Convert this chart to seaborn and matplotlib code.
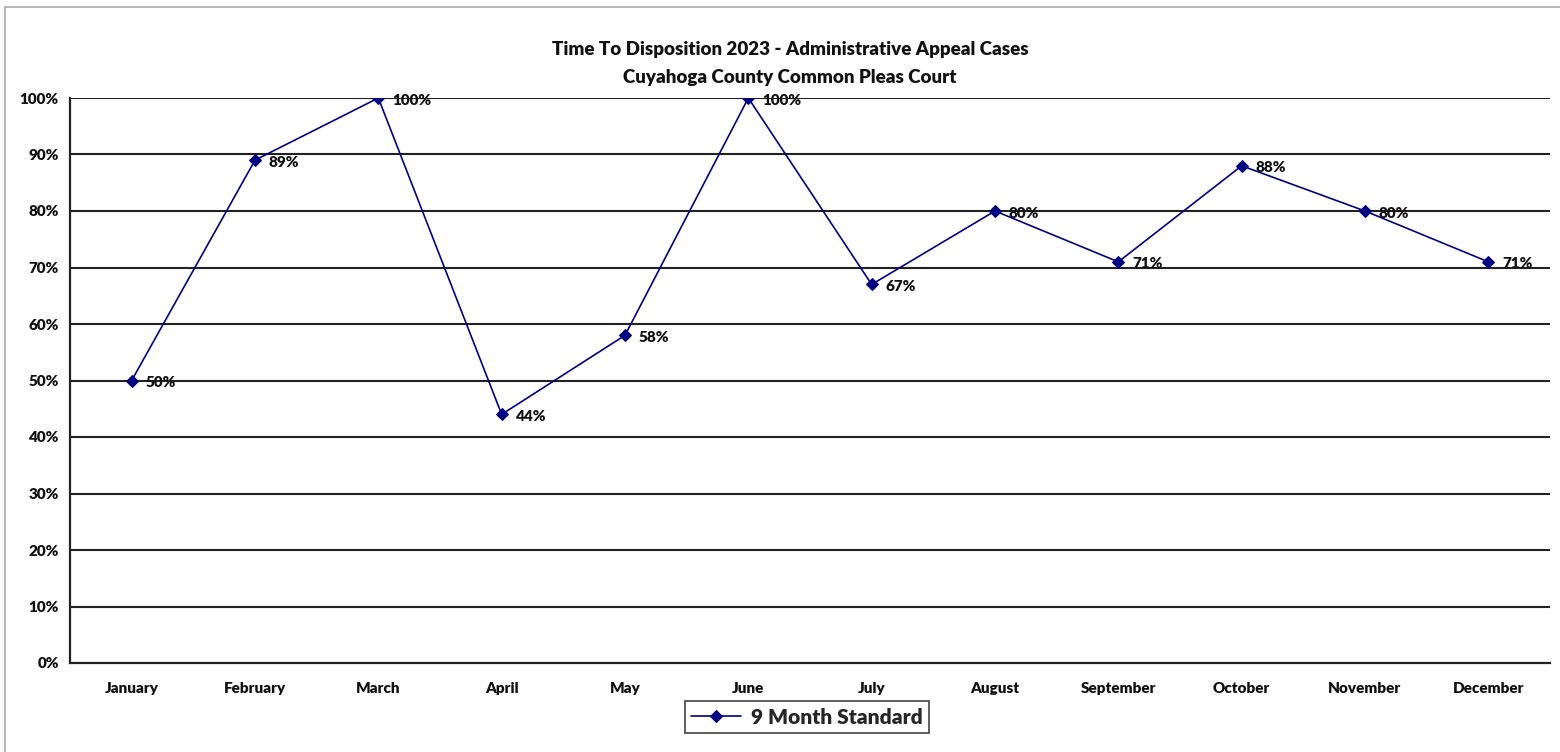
import matplotlib
matplotlib.use("Agg")
import matplotlib.pyplot as plt
import seaborn as sns
import pandas as pd
import numpy as np
from matplotlib.patches import Rectangle

months = ["January", "February", "March", "April", "May", "June", "July",
          "August", "September", "October", "November", "December"]
values = [50, 89, 100, 44, 58, 100, 67, 80, 71, 88, 80, 71]
series_name = "9 Month Standard"
y_ticks = [0, 10, 20, 30, 40, 50, 60, 70, 80, 90, 100]
title_lines = ["Time To Disposition 2023 - Administrative Appeal Cases",
               "Cuyahoga County Common Pleas Court"]

sns.set_theme(style="white")
plt.rcParams["font.family"] = ["Lato", "DejaVu Sans"]
WT = "heavy"
plt.rcParams["font.weight"] = WT

df = pd.DataFrame({"pos": np.arange(len(months)), "value": values,
                   "series": series_name})

W, H = 1560, 752
fig = plt.figure(figsize=(W / 100, H / 100), dpi=100)
ax = fig.add_axes([70 / W, 1 - 663 / H, (1550 - 70) / W, (663 - 98) / H])

navy = "#000080"
sns.lineplot(data=df, x="pos", y="value", hue="series", palette=[navy],
             marker="D", markersize=6.5, markeredgecolor=navy, linewidth=1.2,
             ax=ax, legend=True)

ax.set_xlim(-0.5, len(months) - 0.5)
ax.set_ylim(0, 100)
ax.set_yticks(y_ticks)
ax.set_yticklabels([f"{t}%" for t in y_ticks], fontsize=11, fontweight=WT, color="#111111")
ax.set_xticks(np.arange(len(months)))
ax.set_xticklabels(months, fontsize=11, fontweight=WT, color="#111111")
ax.set_xticks(np.arange(len(months) + 1) - 0.5, minor=True)
ax.tick_params(axis="x", which="major", length=0, pad=14)
ax.tick_params(axis="x", which="minor", length=6, width=1.3, color="#222222", direction="out")
ax.tick_params(axis="y", length=5, width=1.3, color="#222222", direction="out", pad=3)
ax.set_xlabel("")
ax.set_ylabel("")
for t in y_ticks[1:]:
    ax.axhline(t, color="#222222", linewidth=1.5, zorder=0)
for s in ["top", "right"]:
    ax.spines[s].set_visible(False)
for s in ["left", "bottom"]:
    ax.spines[s].set_color("#222222")
    ax.spines[s].set_linewidth(1.6)

for i, v in enumerate(values):
    ax.annotate(f"{v}%", (i, v), xytext=(10, -1.5), textcoords="offset points",
                ha="left", va="center", fontsize=11, fontweight=WT, color="#111111")

fig.text(790 / W, 1 - 49 / H, title_lines[0], ha="center", va="center",
         fontsize=13.5, fontweight=WT, color="#111111")
fig.text(790 / W, 1 - 77 / H, title_lines[1], ha="center", va="center",
         fontsize=13.5, fontweight=WT, color="#111111")

handles, labels = ax.get_legend_handles_labels()
leg = ax.legend(handles, labels, loc="center", bbox_to_anchor=(807 / W, 1 - 717 / H),
                bbox_transform=fig.transFigure, frameon=True, fancybox=False,
                prop={"size": 15, "weight": WT}, handlelength=2.4,
                borderpad=0.3, handletextpad=0.5, borderaxespad=0)
leg.get_frame().set_edgecolor("#111111")
leg.get_frame().set_linewidth(1.2)

fig.patches.append(Rectangle((5 / W, -0.05), 1.1, 1 - 7 / H + 0.05,
                             transform=fig.transFigure, fill=False,
                             edgecolor="#aaaaaa", linewidth=1.2))

fig.savefig("out.png", dpi=100)
